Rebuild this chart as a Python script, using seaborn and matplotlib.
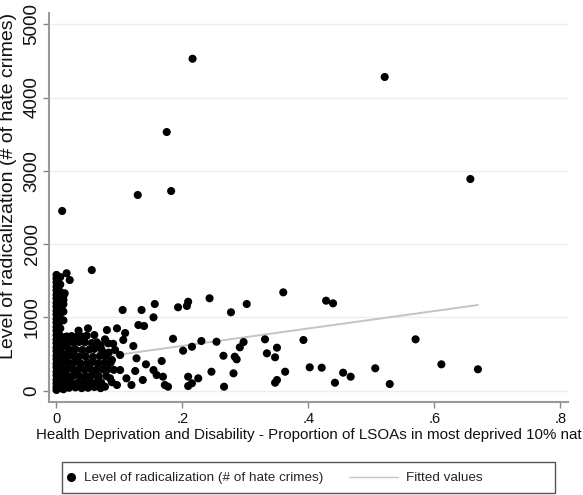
import matplotlib
matplotlib.use("Agg")
import matplotlib.pyplot as plt
import seaborn as sns
import pandas as pd
from matplotlib.lines import Line2D
from matplotlib.patches import Rectangle

# ---- data ----
# sparse / outlying observations
x_sparse = [0.009, 0.129, 0.182, 0.175, 0.216, 0.521, 0.657,
            0.105, 0.135, 0.156, 0.154, 0.130, 0.139, 0.193, 0.209, 0.207, 0.243,
            0.109, 0.106, 0.122, 0.185, 0.201, 0.215, 0.230, 0.254, 0.101, 0.127,
            0.142, 0.167, 0.154, 0.159, 0.125, 0.111, 0.119, 0.137, 0.169, 0.172,
            0.177, 0.209, 0.215, 0.225, 0.209, 0.246,
            0.360, 0.302, 0.277, 0.297, 0.291, 0.331, 0.392, 0.265, 0.283, 0.286,
            0.334, 0.350, 0.347, 0.402, 0.281, 0.363, 0.350, 0.347, 0.266,
            0.428, 0.439, 0.421, 0.455, 0.467, 0.442, 0.506, 0.529,
            0.570, 0.611, 0.669,
            0.056, 0.016, 0.021, 0.013, 0.011, 0.050, 0.080, 0.096,
            0.077, 0.082, 0.093, 0.088, 0.101, 0.085, 0.096, 0.077, 0.066]
y_sparse = [2452, 2670, 2724, 3529, 4529, 4280, 2888,
            1101, 1101, 1183, 1001, 896, 883, 1138, 1214, 1156, 1261,
            787, 692, 610, 709, 546, 600, 678, 668, 487, 442,
            360, 405, 282, 214, 269, 169, 78, 146, 191, 78,
            55, 191, 101, 169, 64, 259,
            1342, 1183, 1070, 664, 592, 701, 692, 477, 464, 428,
            510, 587, 456, 319, 237, 259, 146, 109, 55,
            1228, 1192, 314, 246, 191, 109, 306, 91,
            701, 360, 292,
            1646, 1602, 1510, 1329, 1237, 851, 828, 851,
            701, 646, 555, 419, 282, 169, 78, 55, 191]

# dense cluster near zero deprivation
x_dense = [0.000] * 30 + [0.006] * 16 + [0.011] * 12 + [
    0.016, 0.024, 0.032, 0.040, 0.048,
    0.018, 0.027, 0.036, 0.045, 0.056, 0.064,
    0.020, 0.030, 0.041, 0.052, 0.060, 0.072,
    0.017, 0.026, 0.035, 0.046, 0.058, 0.069, 0.078,
    0.019, 0.028, 0.038, 0.049, 0.057, 0.066, 0.076, 0.086,
    0.016, 0.025, 0.034, 0.044, 0.053, 0.063, 0.073, 0.082, 0.091,
    0.018, 0.027, 0.037, 0.047, 0.056, 0.067, 0.079,
    0.015, 0.023, 0.033, 0.043, 0.054, 0.062, 0.071, 0.088,
    0.020, 0.030, 0.040, 0.050, 0.060, 0.070,
    0.035, 0.060, 0.070, 0.083, 0.090]
y_dense = [1580, 1530, 1480, 1420, 1370, 1310, 1260, 1200, 1150, 1090,
           1040, 980, 930, 870, 820, 760, 700, 650, 590, 540,
           480, 430, 370, 320, 260, 210, 150, 100, 50, 10,
           1550, 1450, 1350, 1250, 1150, 1050, 950, 850, 750, 650,
           550, 450, 350, 250, 150, 60,
           1290, 1180, 1080, 960, 720, 610, 500, 390, 280, 180, 90, 20,
           740, 745, 735, 740, 750,
           660, 655, 665, 660, 650, 660,
           560, 565, 555, 560, 570, 555,
           470, 475, 465, 470, 460, 475, 470,
           380, 385, 375, 380, 390, 375, 380, 385,
           290, 295, 285, 290, 300, 285, 290, 295, 285,
           200, 205, 195, 200, 210, 195, 200,
           110, 115, 105, 110, 120, 105, 110, 115,
           40, 45, 35, 40, 50, 35,
           820, 760, 620, 520, 640]

fit_x = [0.0, 0.669]
fit_y = [374, 1169]

x_ticks = [0, 0.2, 0.4, 0.6, 0.8]
x_tick_labels = ["0", ".2", ".4", ".6", ".8"]
y_ticks = [0, 1000, 2000, 3000, 4000, 5000]
y_tick_labels = ["0", "1000", "2000", "3000", "4000", "5000"]

x_label = "Health Deprivation and Disability - Proportion of LSOAs in most deprived 10% nat"
y_label = "Level of radicalization (# of hate crimes)"
legend_labels = ["Level of radicalization (# of hate crimes)", "Fitted values"]

# ---- build frames ----
pts = pd.DataFrame({"x": x_sparse + x_dense, "y": y_sparse + y_dense})
fit = pd.DataFrame({"x": fit_x, "y": fit_y})

sns.set_style("white")
plt.rcParams["font.family"] = ["Liberation Sans", "DejaVu Sans"]

W, H = 583, 495
fig = plt.figure(figsize=(W / 100, H / 100), dpi=100)
ax = fig.add_axes([49 / W, 1 - 402 / H, (568 - 49) / W, (402 - 13) / H])

grid_c = "#e8f0f2"
for yt in y_ticks:
    ax.axhline(yt, color=grid_c, lw=1.0, zorder=0)

fit_color = "#c4c4c4"
sns.lineplot(data=fit, x="x", y="y", ax=ax, color=fit_color, lw=1.4, zorder=2,
             legend=False)
sns.scatterplot(data=pts, x="x", y="y", ax=ax, color="black", s=34,
                edgecolor="none", zorder=3, legend=False)

ax.set_xlim(-0.0119, 0.812)
ax.set_ylim(-154, 5153)

for side in ["top", "right"]:
    ax.spines[side].set_visible(False)
for side in ["left", "bottom"]:
    ax.spines[side].set_color("#999999")
    ax.spines[side].set_linewidth(1.5)

ax.set_xticks(x_ticks)
ax.set_xticklabels(x_tick_labels, fontsize=10.5)
ax.set_yticks(y_ticks)
ax.set_yticklabels(y_tick_labels, fontsize=13.5, rotation=90, va="center")
ax.tick_params(axis="both", direction="out", length=4, width=1, color="#888888",
               colors="#111111", bottom=True, left=True, pad=3)
ax.tick_params(axis="y", pad=2)

ax.set_xlabel(x_label, fontsize=10.9, color="#111111", labelpad=2)
ax.set_ylabel(y_label, fontsize=14, color="#111111")
ax.yaxis.set_label_coords(-0.062, (402 - 186) / 389)
ax.grid(False)

# legend: framed box below the plot
fig.add_artist(Rectangle((62 / W, 1 - 493 / H), (555 - 62) / W, 31 / H,
                         transform=fig.transFigure, fill=False,
                         edgecolor="#555555", lw=1.0))
h_pts = Line2D([], [], ls="none", marker="o", color="black", markersize=5.5)
h_fit = Line2D([], [], color=fit_color, lw=1.0)
ly = 1 - 478 / H
fig.legend([h_pts], [legend_labels[0]], loc="center left",
           bbox_to_anchor=(62 / W, ly), fontsize=9.7, frameon=False,
           handlelength=0.8, handletextpad=0.5, borderpad=0, borderaxespad=0.3)
fig.legend([h_fit], [legend_labels[1]], loc="center left",
           bbox_to_anchor=(349 / W, ly), fontsize=9.7, frameon=False,
           handlelength=3.6, handletextpad=0.6, borderpad=0, borderaxespad=0)

fig.savefig("out.png", dpi=100)
